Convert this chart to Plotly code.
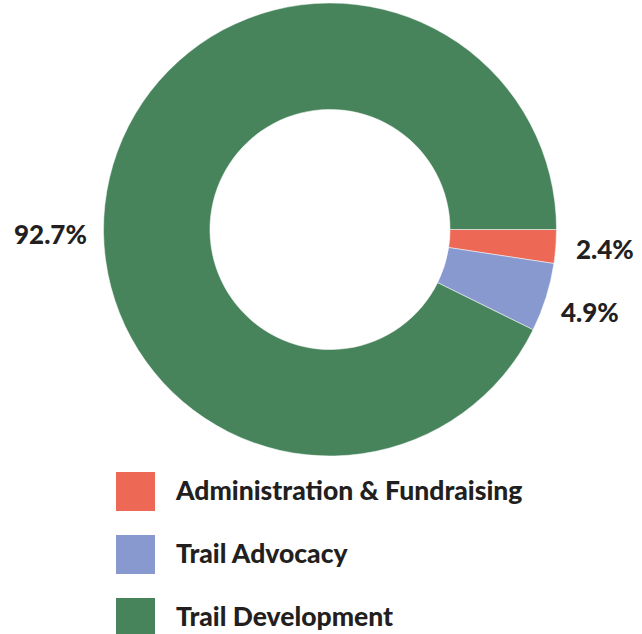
import plotly.graph_objects as go

categories = ["Administration & Fundraising", "Trail Advocacy", "Trail Development"]
values = [2.4, 4.9, 92.7]
colors = ["#EE6955", "#8799CF", "#47845C"]
pct_labels = [f"{v:.1f}%" for v in values]

W, H = 642, 634
FONT = "Lato"
TXT = "#231F20"
FS = 26


def px(x):
    return x / W


def py(y):
    return 1 - y / H


fig = go.Figure()

fig.add_trace(go.Pie(
    labels=categories,
    values=values,
    hole=0.53,
    sort=False,
    direction="clockwise",
    rotation=90,
    marker=dict(colors=colors, line=dict(color="white", width=0.5)),
    textinfo="none",
    showlegend=False,
    hoverinfo="label+percent",
    domain=dict(x=[px(103), px(557)], y=[py(456), py(3)]),
))

# custom legend drawn with scatter markers
idx = list(range(len(categories)))
fig.add_trace(go.Scatter(
    x=[0] * len(categories), y=idx, mode="markers",
    marker=dict(symbol="square", size=39, color=colors, line=dict(width=0)),
    xaxis="x2", yaxis="y2", showlegend=False, hoverinfo="skip",
))
fig.add_trace(go.Scatter(
    x=[1] * len(categories), y=idx, mode="text",
    text=categories, textposition="middle right",
    textfont=dict(family=FONT, size=26.5, color=TXT, weight=900),
    xaxis="x2", yaxis="y3", showlegend=False, hoverinfo="skip",
))

# percentage labels beside the slices
label_pos = [  # (x, y, anchor)
    (574, 249, "left"),
    (559, 312, "left"),
    (89, 234, "right"),
]
annotations = []
for txt, (x, y, anc) in zip(pct_labels, label_pos):
    annotations.append(dict(
        text=txt, x=px(x), y=py(y), xref="paper", yref="paper",
        xanchor=anc, yanchor="middle", showarrow=False,
        font=dict(family=FONT, size=FS, color=TXT, weight=900),
    ))

fig.update_layout(
    width=W, height=H,
    margin=dict(l=0, r=0, t=0, b=0),
    paper_bgcolor="white", plot_bgcolor="white",
    annotations=annotations,
    xaxis2=dict(domain=[0, 1], range=[-135.5 / 40.5, (W - 135.5) / 40.5],
                visible=False, fixedrange=True, anchor="y2"),
    yaxis2=dict(domain=[0, 174 / H], range=[2.262, -0.5],
                visible=False, fixedrange=True, anchor="x2"),
    yaxis3=dict(domain=[0, 174 / H], range=[2.262 - 0.035, -0.5 - 0.035],
                visible=False, fixedrange=True, anchor="x2", overlaying="y2"),
)

fig.write_html("out.html", config={"displayModeBar": False},
               post_script="document.body.style.margin='0px';")
